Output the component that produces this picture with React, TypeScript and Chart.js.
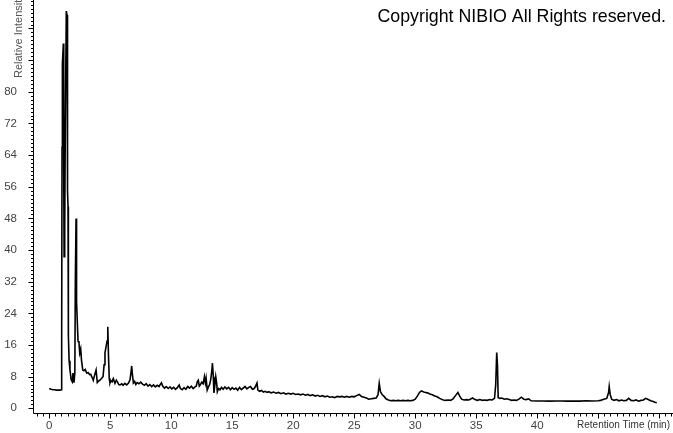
import React, { useEffect, useRef } from 'react';
import { Chart, registerables } from 'chart.js';

Chart.register(...registerables);

const retentionTime = [
  0.0, 0.15, 0.3, 0.45, 0.6, 0.75, 0.9, 0.99, 1.02, 1.05, 1.08, 1.16, 1.19, 1.22, 1.27, 1.32, 1.4, 1.46, 1.5, 1.54,
  1.57, 1.63, 1.7, 1.8, 1.89, 1.95, 2.03, 2.1, 2.14, 2.2, 2.24, 2.3, 2.36, 2.44, 2.5, 2.58, 2.65, 2.75, 2.85, 2.95,
  3.07, 3.2, 3.3, 3.4, 3.48, 3.55, 3.61, 3.7, 3.84, 3.94, 4.05, 4.16, 4.3, 4.41, 4.5, 4.57, 4.66, 4.74, 4.8, 4.86,
  4.92, 4.98, 5.05, 5.15, 5.25, 5.39, 5.5, 5.6, 5.7, 5.8, 5.95, 6.05, 6.2, 6.35, 6.5, 6.62, 6.7, 6.76, 6.82, 6.9,
  7.0, 7.1, 7.2, 7.35, 7.5, 7.65, 7.8, 7.95, 8.1, 8.25, 8.4, 8.55, 8.7, 8.85, 9.0, 9.1, 9.2, 9.3, 9.45, 9.6,
  9.75, 9.9, 10.05, 10.2, 10.35, 10.5, 10.65, 10.75, 10.9, 11.05, 11.2, 11.35, 11.5, 11.65, 11.8, 11.95, 12.05, 12.15, 12.22, 12.3,
  12.4, 12.5, 12.62, 12.72, 12.8, 12.86, 12.95, 13.05, 13.15, 13.25, 13.33, 13.38, 13.45, 13.5, 13.58, 13.65, 13.72, 13.78, 13.88, 14.0,
  14.12, 14.25, 14.4, 14.55, 14.7, 14.85, 15.0, 15.15, 15.3, 15.45, 15.6, 15.75, 15.9, 16.05, 16.2, 16.35, 16.5, 16.65, 16.8, 16.9,
  17.03, 17.1, 17.25, 17.4, 17.55, 17.7, 17.85, 18.0, 18.2, 18.4, 18.6, 18.8, 19.0, 19.2, 19.4, 19.6, 19.8, 20.0, 20.2, 20.4,
  20.6, 20.8, 21.0, 21.2, 21.4, 21.6, 21.8, 22.0, 22.2, 22.4, 22.6, 22.8, 23.0, 23.2, 23.4, 23.6, 23.8, 24.0, 24.2, 24.4,
  24.6, 24.8, 25.0, 25.2, 25.4, 25.6, 25.8, 26.0, 26.2, 26.4, 26.6, 26.8, 26.95, 27.05, 27.15, 27.3, 27.45, 27.6, 27.8, 28.0,
  28.2, 28.4, 28.6, 28.8, 29.0, 29.2, 29.4, 29.6, 29.8, 30.0, 30.2, 30.35, 30.5, 30.7, 30.85, 31.0, 31.2, 31.4, 31.6, 31.8,
  32.0, 32.3, 32.5, 32.7, 32.9, 33.1, 33.3, 33.5, 33.65, 33.8, 34.0, 34.2, 34.4, 34.7, 34.9, 35.1, 35.3, 35.5, 35.7, 35.9,
  36.1, 36.3, 36.5, 36.6, 36.68, 36.74, 36.8, 36.95, 37.1, 37.3, 37.5, 37.7, 37.9, 38.1, 38.3, 38.5, 38.7, 38.9, 39.1, 39.3,
  39.5, 40.0, 40.5, 41.0, 41.5, 42.0, 42.5, 43.0, 43.5, 44.0, 44.5, 45.0, 45.2, 45.4, 45.7, 45.85, 45.9, 45.98, 46.1, 46.3,
  46.5, 46.7, 46.9, 47.1, 47.3, 47.5, 47.7, 47.9, 48.1, 48.3, 48.5, 48.7, 48.9, 49.1, 49.3, 49.5, 49.65, 49.8,
];

const intensity = [
  5.0, 4.8, 4.7, 4.7, 4.6, 4.6, 4.6, 4.7, 16.8, 66, 87, 92.2, 60, 38.3, 45, 72, 100.4, 99.4, 55, 51,
  18.5, 12, 9.7, 7.2, 6.7, 8.9, 6.5, 9.0, 32, 48, 27, 22, 17, 16.5, 14, 15, 12, 9.7, 9.5, 9.8,
  8.9, 9.0, 8.5, 8.6, 8.0, 7.6, 7.1, 8.2, 9.7, 6.5, 6.9, 7.1, 7.6, 8.0, 11, 14, 15.6, 17, 20.6, 13,
  7.5, 6.4, 7.0, 6.7, 7.5, 6.3, 7.1, 6.6, 6.0, 5.9, 6.2, 5.8, 6.3, 5.9, 6.4, 7.2, 9.0, 10.7, 8.5, 6.4,
  6.8, 6.0, 6.5, 6.2, 6.6, 6.1, 5.8, 6.2, 5.6, 6.0, 5.5, 5.9, 5.4, 5.8, 5.5, 6.0, 6.4, 5.6, 5.1, 5.5,
  5.0, 5.4, 4.9, 5.3, 4.8, 5.2, 5.9, 5.0, 4.7, 5.2, 4.8, 5.5, 5.1, 5.6, 5.0, 5.4, 5.6, 6.8, 7.1, 5.6,
  6.0, 6.6, 6.2, 8.0, 6.4, 7.6, 4.6, 5.4, 6.0, 7.5, 9.6, 11.4, 8.0, 3.9, 6.0, 8.0, 6.5, 4.2, 5.0, 4.7,
  5.3, 4.8, 5.4, 4.9, 5.3, 4.7, 5.2, 4.8, 5.1, 4.6, 5.3, 4.7, 5.1, 5.5, 4.9, 5.3, 5.5, 4.8, 5.0, 5.5,
  6.4, 4.6, 4.3, 4.5, 4.1, 4.3, 4.0, 4.2, 3.9, 4.1, 3.8, 4.0, 3.7, 3.9, 3.6, 3.8, 3.6, 3.8, 3.5, 3.6,
  3.4, 3.6, 3.3, 3.5, 3.2, 3.4, 3.1, 3.3, 3.0, 3.2, 2.9, 3.1, 2.8, 2.9, 2.7, 3.0, 2.9, 3.0, 2.8, 3.0,
  2.8, 3.0, 2.9, 3.2, 3.5, 3.0, 2.8, 2.6, 2.3, 2.4, 2.5, 2.6, 3.4, 6.3, 4.2, 3.4, 3.0, 2.4, 2.1, 1.9,
  2.0, 1.9, 2.0, 1.9, 2.0, 1.9, 2.0, 1.9, 2.0, 2.3, 3.2, 4.0, 4.4, 4.1, 4.0, 3.9, 3.6, 3.4, 3.1, 2.9,
  2.5, 2.1, 2.0, 2.1, 2.0, 2.4, 3.2, 4.0, 3.1, 2.3, 2.1, 2.2, 2.1, 2.6, 2.2, 2.0, 2.2, 2.0, 2.1, 2.0,
  2.2, 2.1, 2.5, 6.0, 14.1, 11, 2.7, 2.5, 2.6, 2.3, 2.4, 2.2, 2.0, 2.1, 2.0, 2.3, 2.8, 2.3, 2.2, 2.4,
  1.9, 1.85, 1.85, 1.8, 1.85, 1.85, 1.8, 1.85, 1.8, 1.9, 1.85, 1.9, 2.0, 2.2, 2.5, 4.0, 5.5, 3.5, 2.3, 2.0,
  2.2, 1.9, 2.1, 1.9, 2.0, 2.5, 2.0, 1.9, 2.1, 1.8, 2.0, 2.1, 2.5, 2.2, 1.9, 1.7, 1.5, 1.4,
];

const xTickValues = [0, 5, 10, 15, 20, 25, 30, 35, 40];
const yTickValues = [0, 8, 16, 24, 32, 40, 48, 56, 64, 72, 80];
const xAxisTitle = 'Retention Time (min)';
const yAxisTitle = 'Relative Intensity';
const copyrightText = 'Copyright NIBIO All Rights reserved.';

const X_MIN = -1.33;
const X_MAX = 51.13;
const Y_MIN = -1.19;
const Y_MAX = 103.2;

const FAMILY = '"Liberation Sans", Arial, sans-serif';

const decorPlugin = {
  id: 'decor',
  afterDraw(chart: any) {
    const { ctx, chartArea } = chart;
    const xs = chart.scales.x;
    const ys = chart.scales.y;
    ctx.save();
    ctx.strokeStyle = '#000';
    ctx.lineWidth = 1;
    const left = Math.round(chartArea.left) + 0.5;
    const bottom = Math.round(chartArea.bottom) + 0.5;
    ctx.beginPath();
    ctx.moveTo(left, chartArea.top);
    ctx.lineTo(left, bottom);
    ctx.lineTo(chartArea.right, bottom);
    // x ticks every 0.5 min
    for (let i = Math.ceil(X_MIN * 2); i <= Math.floor(X_MAX * 2); i++) {
      const px = Math.round(xs.getPixelForValue(i / 2)) + 0.5;
      const len = i % 10 === 0 ? 5 : 3;
      ctx.moveTo(px, bottom);
      ctx.lineTo(px, bottom + len);
    }
    // y ticks every 1 unit
    for (let v = 0; v <= Math.floor(Y_MAX); v++) {
      const py = Math.round(ys.getPixelForValue(v)) + 0.5;
      const len = v % 8 === 0 ? 5 : 2.5;
      ctx.moveTo(left - len, py);
      ctx.lineTo(left, py);
    }
    ctx.stroke();

    // copyright
    ctx.fillStyle = '#000';
    ctx.font = `17.8px ${FAMILY}`;
    ctx.textAlign = 'right';
    ctx.textBaseline = 'alphabetic';
    ctx.fillText(copyrightText, 666, 21.5);

    // x axis title
    ctx.fillStyle = '#333';
    ctx.font = `10px ${FAMILY}`;
    ctx.textAlign = 'right';
    ctx.textBaseline = 'middle';
    ctx.fillText(xAxisTitle, 670, 425.5);

    // y axis title
    ctx.save();
    ctx.translate(22, 78);
    ctx.rotate(-Math.PI / 2);
    ctx.fillStyle = '#555';
    ctx.font = `11px ${FAMILY}`;
    ctx.textAlign = 'left';
    ctx.textBaseline = 'alphabetic';
    ctx.fillText(yAxisTitle, 0, 0);
    ctx.restore();

    ctx.restore();
  },
};

export default function App() {
  const ref = useRef<HTMLCanvasElement>(null);
  useEffect(() => {
    const canvas = ref.current;
    if (!canvas) return;
    const chart = new Chart(canvas, {
      type: 'line',
      data: {
        datasets: [
          {
            label: 'Chromatogram',
            data: retentionTime.map((t, i) => ({ x: t, y: intensity[i] })),
            borderColor: '#000',
            borderWidth: 1.6,
            pointRadius: 0,
            tension: 0,
            fill: false,
          },
        ],
      },
      options: {
        responsive: false,
        animation: false,
        events: [],
        layout: { padding: 0 },
        plugins: {
          legend: { display: false },
          tooltip: { enabled: false },
        },
        scales: {
          x: {
            type: 'linear',
            min: X_MIN,
            max: X_MAX,
            grid: { display: false, drawTicks: false },
            border: { display: false },
            afterBuildTicks: (s: any) => {
              s.ticks = xTickValues.map((v) => ({ value: v }));
            },
            afterFit: (s: any) => {
              s.height = 20;
              s.paddingLeft = 0;
              s.paddingRight = 0;
            },
            ticks: {
              color: '#444',
              padding: 6,
              maxRotation: 0,
              autoSkip: false,
              font: { family: FAMILY, size: 11.5 },
              callback: (v: any) => String(v),
            },
          },
          y: {
            type: 'linear',
            min: Y_MIN,
            max: Y_MAX,
            grid: { display: false, drawTicks: false },
            border: { display: false },
            afterBuildTicks: (s: any) => {
              s.ticks = yTickValues.map((v) => ({ value: v }));
            },
            afterFit: (s: any) => {
              s.width = 33;
              s.paddingTop = 0;
              s.paddingBottom = 0;
            },
            ticks: {
              color: '#444',
              padding: 16,
              autoSkip: false,
              font: { family: FAMILY, size: 11.5 },
              callback: (v: any) => String(v),
            },
          },
        },
      },
      plugins: [decorPlugin],
    });
    return () => chart.destroy();
  }, []);
  return (
    <div style={{ position: 'absolute', left: 0, top: 0, width: 673, height: 433, background: '#fff' }}>
      <canvas ref={ref} width={673} height={433} style={{ display: 'block' }} />
    </div>
  );
}
